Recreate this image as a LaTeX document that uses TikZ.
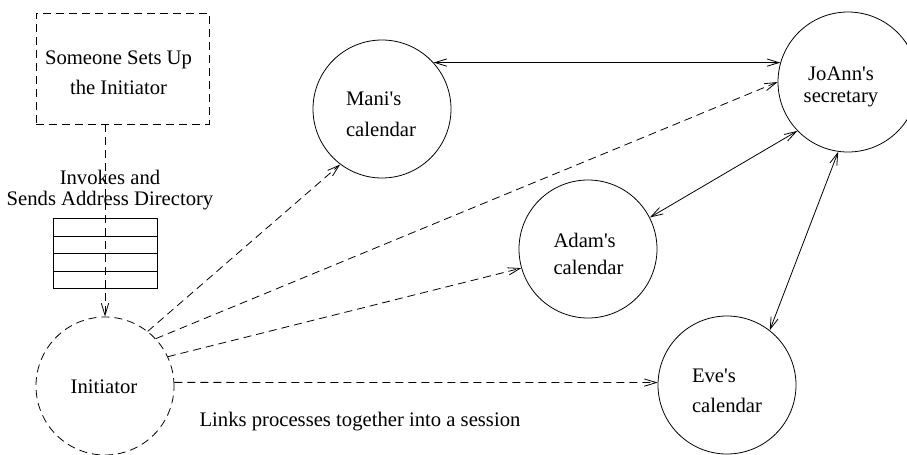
\documentclass[tikz,border=0pt]{standalone}
\usepackage{fontspec}
\setmainfont{Liberation Serif}
\usetikzlibrary{arrows.meta}

\newcommand{\aps}{\textquotesingle}

\tikzset{
  ball/.style={draw, circle, inner sep=0pt, minimum size=103.5pt},
  dashline/.style={dash pattern=on 6pt off 3.75pt},
  txt/.style={inner sep=0pt, align=center, font=\fontsize{15.5}{#1}\selectfont},
  txt/.default=18.6
}

\begin{document}
\begin{tikzpicture}[x=0.75pt,y=0.75pt,yscale=-1,xscale=1,line width=0.6pt,
  >={Straight Barb[length=9pt,width=5.5pt]}]
\useasboundingbox (0,0) rectangle (907,454);

%Shape: Dashed Box
\node [draw, dashline, inner sep=0pt, minimum width=129.75pt, minimum height=83.25pt] (setup) at (122.5,68.5) {};
%Shape: Table
\draw (53,218) rectangle (157,288);
\foreach \y in {236,253,271}
  \draw (53,\y) -- (157,\y);

%Shape: Circles
\node [ball, dashline] (init) at (105,386) {};
\node [ball] (mani) at (382,109) {};
\node [ball, minimum size=105pt] (joann) at (848,82) {};
\node [ball] (adam) at (588,249) {};
\node [ball] (eve) at (727,385) {};

% Text Node
\node [txt=22.5] (setuptxt) at (118.5,73) {Someone Sets Up\\the Initiator};
% Text Node
\node [txt=15.75] (invokes) at (110,190) {Invokes and\\Sends Address Directory};
% Text Node
\node [txt, anchor=base] (inittxt) at (104,393) {Initiator};
% Text Node
\node [txt=23.25, align=left] (manitxt) at (381,114.5) {Mani\aps s\\calendar};
% Text Node
\node [txt=16.5] (joanntxt) at (841,87) {JoAnn\aps s\\secretary};
% Text Node
\node [txt=20.25, align=left] (adamtxt) at (588.5,253.5) {Adam\aps s\\calendar};
% Text Node
\node [txt=22.5, align=left] (evetxt) at (727,391) {Eve\aps s\\calendar};
% Text Node
\node [txt, anchor=base] (links) at (360,426) {Links processes together into a session};

%Straight Lines
\draw [dashline, ->] (init.north |- setup.south) -- (init.north);
\draw [<->] (mani.42) -- (joann.164);
\draw [<->] (adam.27) -- (joann.224);
\draw [<->] (eve.52) -- (joann.262);
%Dashed Lines
\draw [dashline, ->] (init.52) -- (mani.233);
\draw [dashline, ->] (init.43) -- (joann.180);
\draw [dashline, ->] (init.25) -- (adam.196);
\draw [dashline, ->] (init.3) -- (eve.178);

\end{tikzpicture}
\end{document}
